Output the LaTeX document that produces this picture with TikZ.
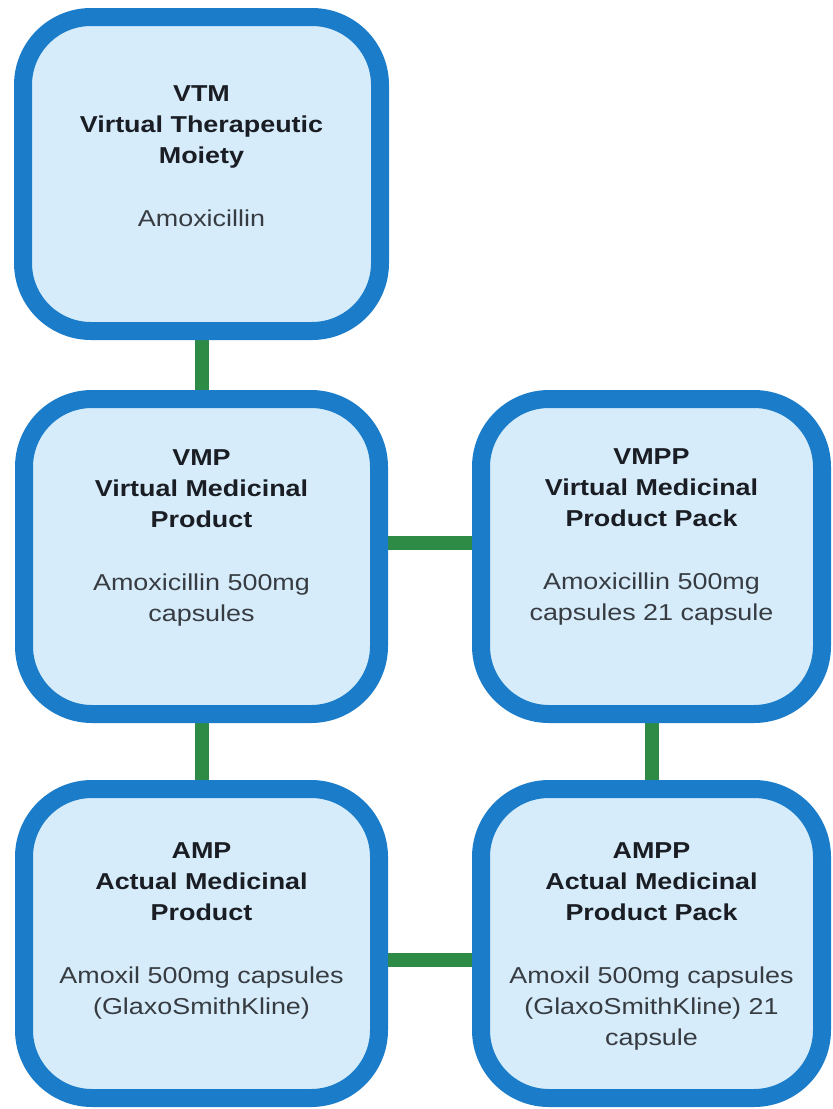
\documentclass[tikz,border=0pt]{standalone}
\usepackage{fontspec}
\setmainfont{Liberation Sans}[FakeStretch=1.17]
\usetikzlibrary{positioning,backgrounds}
\definecolor{boxblue}{RGB}{27,125,201}
\definecolor{boxfill}{RGB}{214,236,250}
\definecolor{linkgreen}{RGB}{46,139,70}
\definecolor{titlegray}{RGB}{26,30,36}
\definecolor{bodygray}{RGB}{55,60,66}
\newcommand{\desc}[1]{{\mdseries\color{bodygray}#1}}
\begin{document}
\begin{tikzpicture}[x=1pt,y=-1pt,
  box/.style={draw=boxblue,line width=18pt,fill=boxfill,rounded corners=68pt,inner sep=0pt},
  info/.style={align=center,font=\fontsize{23}{31}\selectfont\bfseries,text=titlegray,inner sep=0pt},
  link/.style={draw=linkgreen,line width=14pt}]
\useasboundingbox (0,0) rectangle (833,1109);
% Boxes
\node[box,minimum width=357pt,minimum height=314pt] (vtm) at (201.5,174) {};
\node[box,minimum width=355pt,minimum height=315pt] (vmp) at (201.5,556.5) {};
\node[box,minimum width=341pt,minimum height=315pt] (vmpp) at (651.5,556.5) {};
\node[box,minimum width=355pt,minimum height=309pt] (amp) at (201.5,943.5) {};
\node[box,minimum width=341pt,minimum height=309pt] (ampp) at (651.5,943.5) {};
% Texts
\node[info,below=77pt of vtm.north] (vtmtxt) {VTM\\Virtual Therapeutic\\Moiety\\[32pt]\desc{Amoxicillin}};
\node[info,below=59pt of vmp.north] (vmptxt) {VMP\\Virtual Medicinal\\Product\\[32pt]\desc{Amoxicillin 500mg}\\\desc{capsules}};
\node[info,below=58pt of vmpp.north] (vmpptxt) {VMPP\\Virtual Medicinal\\Product Pack\\[32pt]\desc{Amoxicillin 500mg}\\\desc{capsules 21 capsule}};
\node[info,below=62pt of amp.north] (amptxt) {AMP\\Actual Medicinal\\Product\\[32pt]\desc{Amoxil 500mg capsules}\\\desc{(GlaxoSmithKline)}};
\node[info,below=62pt of ampp.north] (ampptxt) {AMPP\\Actual Medicinal\\Product Pack\\[32pt]\desc{Amoxil 500mg capsules}\\\desc{(GlaxoSmithKline) 21}\\\desc{capsule}};
% Links
\begin{scope}[on background layer]
\draw[link] (vtm.south) -- (vmp.north);
\draw[link] ([yshift=13.5pt]vmp.east) -- ([yshift=13.5pt]vmpp.west);
\draw[link] (vmp.south) -- (amp.north);
\draw[link] (vmpp.south) -- (ampp.north);
\draw[link] ([yshift=-16.5pt]amp.east) -- ([yshift=-16.5pt]ampp.west);
\end{scope}
\end{tikzpicture}
\end{document}
